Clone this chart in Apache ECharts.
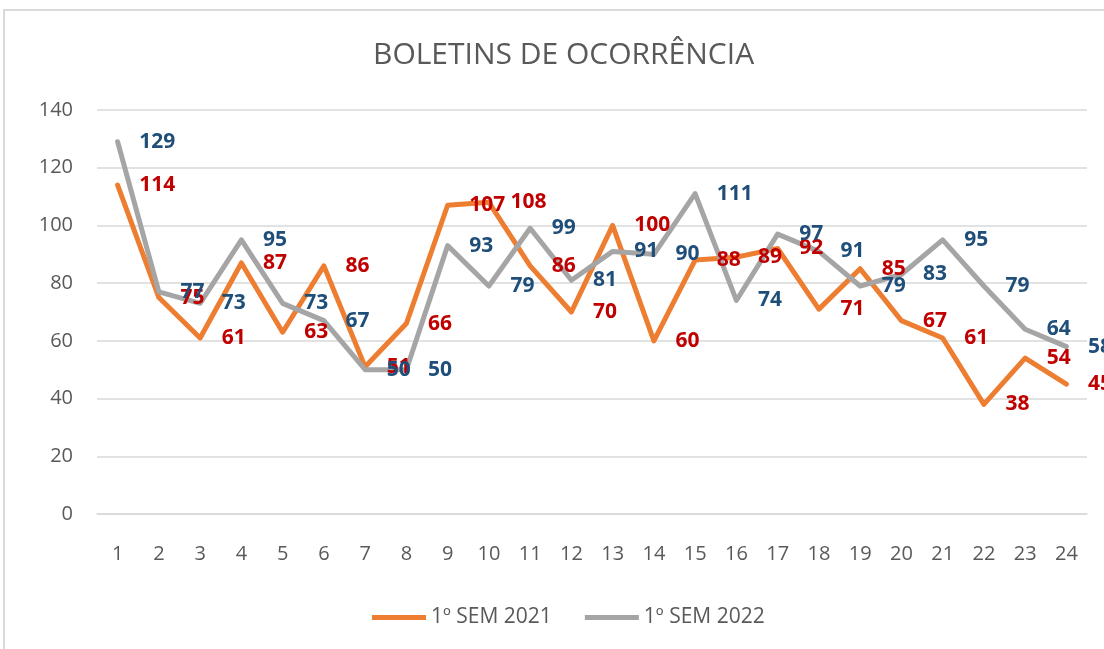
<!DOCTYPE html>
<html>
<head>
<meta charset="utf-8">
<script src="https://cdn.jsdelivr.net/npm/echarts@6/dist/echarts.min.js"></script>
<style>
    html, body { margin: 0; padding: 0; background: #fff; }
    #chart { width: 1104px; height: 649px; }
</style>
</head>
<body>
<div id="chart"></div>
<script>
// dados do gráfico
const categories = ["1", "2", "3", "4", "5", "6", "7", "8", "9", "10", "11", "12",
    "13", "14", "15", "16", "17", "18", "19", "20", "21", "22", "23", "24"];
const sem2021 = [114, 75, 61, 87, 63, 86, 51, 66, 107, 108, 86, 70,
    100, 60, 88, 89, 92, 71, 85, 67, 61, 38, 54, 45];
const sem2022 = [129, 77, 73, 95, 73, 67, 50, 50, 93, 79, 99, 81,
    91, 90, 111, 74, 97, 91, 79, 83, 95, 79, 64, 58];
const seriesNames = ["1º SEM 2021", "1º SEM 2022"];

const textColor = "#595959";
const gridColor = "#d9d9d9";
const fontFamily = "'Open Sans', 'Liberation Sans', sans-serif";

function makeSeries(name, data, lineColor, labelColor) {
    return {
        name: name,
        type: "line",
        data: data,
        symbol: "circle",
        symbolSize: 1,
        showSymbol: true,
        itemStyle: { color: lineColor },
        lineStyle: { color: lineColor, width: 5, cap: "round", join: "round" },
        label: {
            show: true,
            position: "right",
            distance: 21,
            color: labelColor,
            fontFamily: fontFamily,
            fontWeight: "bold",
            fontSize: 21
        },
        emphasis: { disabled: true },
        animation: false
    };
}

const chart = echarts.init(document.getElementById("chart"));
chart.setOption({
    animation: false,
    color: ["#ED7D31", "#A5A5A5"],
    graphic: [{
        type: "rect",
        shape: { x: 4, y: 10, width: 1300, height: 800 },
        style: { fill: "none", stroke: gridColor, lineWidth: 2 },
        silent: true
    }],
    title: {
        text: "BOLETINS DE OCORRÊNCIA",
        left: 368,
        top: 35,
        textStyle: {
            color: textColor,
            fontFamily: fontFamily,
            fontWeight: "normal",
            fontSize: 30
        }
    },
    legend: {
        data: seriesNames,
        bottom: 16,
        left: 367,
        itemWidth: 54,
        itemHeight: 5,
        itemGap: 33,
        icon: "rect",
        textStyle: {
            color: textColor,
            fontFamily: fontFamily,
            fontSize: 21
        }
    },
    grid: {
        left: 97,
        right: 17,
        top: 110,
        bottom: 135,
        containLabel: false
    },
    xAxis: {
        type: "category",
        data: categories,
        boundaryGap: true,
        axisLine: { lineStyle: { color: gridColor, width: 1.5 } },
        axisTick: { show: false },
        axisLabel: {
            color: textColor,
            fontFamily: fontFamily,
            fontSize: 20,
            margin: 30
        }
    },
    yAxis: {
        type: "value",
        min: 0,
        max: 140,
        interval: 20,
        axisLine: { show: false },
        axisTick: { show: false },
        splitLine: { lineStyle: { color: gridColor, width: 1.5 } },
        axisLabel: {
            color: textColor,
            fontFamily: fontFamily,
            fontSize: 20,
            margin: 24
        }
    },
    series: [
        makeSeries(seriesNames[0], sem2021, "#ED7D31", "#C00000"),
        makeSeries(seriesNames[1], sem2022, "#A5A5A5", "#1F4E79")
    ]
});
</script>
</body>
</html>
